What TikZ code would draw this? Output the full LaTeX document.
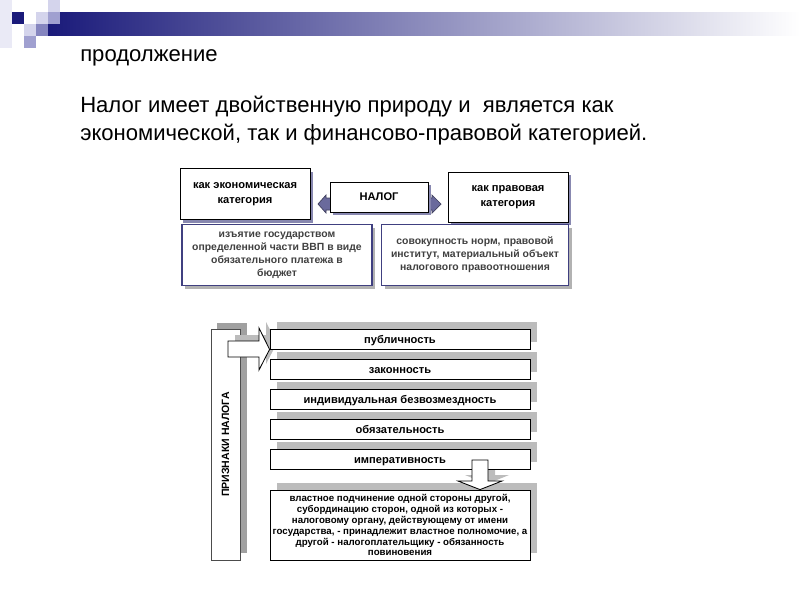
\documentclass[tikz,border=0pt]{standalone}
\usepackage{fontspec}
\setmainfont{Liberation Sans}
\usetikzlibrary{positioning,shadows,calc}
\definecolor{navy}{RGB}{26,26,122}
\definecolor{lilac}{RGB}{160,160,208}
\definecolor{pale}{RGB}{212,212,236}
\definecolor{plum}{RGB}{106,106,156}
\definecolor{inkblue}{RGB}{64,64,128}
\definecolor{ashgray}{RGB}{188,188,188}
\newcommand\pxu{0.025cm}

\begin{document}
\begin{tikzpicture}[x=\pxu,y=-\pxu,
  catbox/.style={draw=black,fill=white,line width=0.7pt,align=center,inner sep=0pt,
    font=\fontsize{7.9}{10.4}\selectfont\bfseries,
    drop shadow={shadow xshift=3*\pxu,shadow yshift=-3*\pxu,fill=plum!80,opacity=1}},
  notebox/.style={draw=inkblue,fill=white,line width=0.9pt,align=center,inner sep=0pt,
    font=\fontsize{7.4}{9.2}\selectfont\bfseries,text=black!75,
    drop shadow={shadow xshift=3*\pxu,shadow yshift=-3*\pxu,fill=black!30,opacity=1}},
  itembox/.style={draw=black,fill=white,line width=0.6pt,inner sep=0pt,
    minimum width=260*\pxu,minimum height=20*\pxu,text height=7.2pt,text depth=0.6pt,
    font=\fontsize{7.9}{9}\selectfont\bfseries,
    drop shadow={shadow xshift=7*\pxu,shadow yshift=7*\pxu,fill=ashgray,opacity=1}},
  blockarr/.style={draw=black,fill=white,line width=0.6pt},
  title/.style={anchor=base west,inner sep=0pt,font=\fontsize{15.7}{18}\selectfont}
]
\useasboundingbox (0,0) rectangle (800,600);

% header
\shade[left color=navy,right color=white] (48,12) rectangle (800,35);
\fill[pale!50] (0,0) rectangle (12,48);
\fill[pale] (48,0) rectangle (60,12);
\fill[navy] (12,12) rectangle (24,24);
\fill[pale] (36,12) rectangle (48,24);
\fill[lilac] (48,12) rectangle (60,24);
\fill[pale] (24,24) rectangle (36,36);
\fill[lilac!80!navy] (36,24) rectangle (48,36);
\fill[lilac] (24,36) rectangle (36,48);

\node[title] (cont) at (80,61) {продолжение};
\node[title] (line1) at (80,112) {Налог имеет двойственную природу и \ является как};
\node[title] (line2) at (80,140) {экономической, так и финансово-правовой категорией.};

% two sides of the tax
\draw[fill=plum,draw=plum!60!black,line width=0.5pt]
  (318,204) -- (326,195) -- (326,198) -- (432,198) -- (432,195) -- (441,204)
  -- (432,213) -- (432,210) -- (326,210) -- (326,213) -- cycle;
\node[catbox,minimum width=130*\pxu,minimum height=51*\pxu] (econ) at (245,194) {как экономическая\\категория};
\node[catbox,minimum width=98*\pxu,minimum height=30*\pxu] (nalog) at (379,197) {НАЛОГ};
\node[catbox,minimum width=120*\pxu,minimum height=50*\pxu] (legal) at (508,197) {как правовая\\категория};
\node[notebox,minimum width=190*\pxu,minimum height=61*\pxu] (withdraw) at (277,255)
  {изъятие государством\\определенной  части ВВП в виде\\обязательного платежа в\\бюджет};
\node[notebox,minimum width=187*\pxu,minimum height=61*\pxu] (norms) at (475,255)
  {совокупность норм, правовой\\институт,  материальный объект\\налогового правоотношения};

% features of the tax
\fill[ashgray!85!black] (217,323) rectangle (247,553);
\node[draw=black!70,fill=white,line width=0.5pt,minimum width=29*\pxu,minimum height=231*\pxu,inner sep=0pt] (signs) at (225.5,444.5) {};
\node[rotate=90,font=\fontsize{7.5}{9}\selectfont\bfseries] (signtxt) at (signs.center) {ПРИЗНАКИ НАЛОГА};

\fill[ashgray] (235,335) -- (266,335) -- (266,322) -- (277,343) -- (266,364) -- (266,351) -- (235,351) -- cycle;
\fill[ashgray] (479,453) -- (495,453) -- (495,475) -- (509,475) -- (487,484) -- (465,475) -- (479,475) -- cycle;

\foreach \t [count=\i from 0] in {публичность,законность,индивидуальная безвозмездность,обязательность,императивность}{
  \node[itembox] (p\i) at (400,339+\i*30) {\t};
}
\node[itembox,minimum height=70*\pxu,text height=,text depth=,align=center,font=\fontsize{6.9}{7.8}\selectfont\bfseries] (duty) at (400,525)
  {властное подчинение одной стороны другой,\\субординацию сторон, одной из которых -\\налоговому органу, действующему от имени\\государства, - принадлежит властное полномочие, а\\другой - налогоплательщику - обязанность\\повиновения};

\draw[blockarr] (228,341) -- (259,341) -- (259,328) -- (p0.south west) -- (259,370) -- (259,357) -- (228,357) -- cycle;
\draw[blockarr] (472,460) -- (488,460) -- (488,481) -- (502,481) -- (duty.north -| 480,0) -- (458,481) -- (472,481) -- cycle;
\end{tikzpicture}
\end{document}
